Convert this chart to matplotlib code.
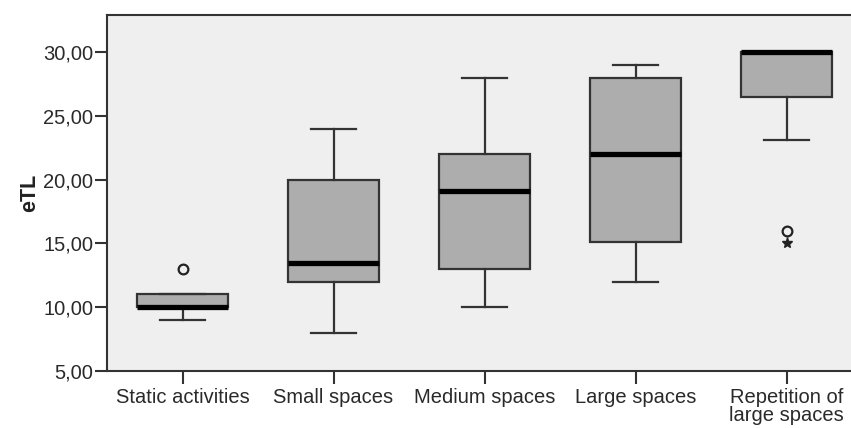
import matplotlib
matplotlib.use("Agg")
import matplotlib.pyplot as plt
from matplotlib.ticker import FuncFormatter

plt.rcParams['font.family'] = ['Liberation Sans', 'DejaVu Sans']

categories = ["Static activities", "Small spaces", "Medium spaces", "Large spaces", "Repetition of\nlarge spaces"]
whisker_low = [9.0, 8.0, 10.0, 12.0, 23.1]
q1 = [10.0, 12.0, 13.0, 15.1, 26.5]
median = [10.0, 13.5, 19.1, 22.0, 30.0]
q3 = [11.0, 20.0, 22.0, 28.0, 30.0]
whisker_high = [11.0, 24.0, 28.0, 29.0, 30.0]
outliers_circle = [[13.0], [], [], [], [16.0]]
outliers_star = [[], [], [], [], [15.0]]
yticks = [5, 10, 15, 20, 25, 30]

fig = plt.figure(figsize=(8.51, 4.28), dpi=100)
fig.patch.set_facecolor('white')
ax = fig.add_axes([107/851, 1 - 371/428, 755/851, (371 - 15)/428])
ax.set_facecolor('#efefef')

stats = []
for i, c in enumerate(categories):
    stats.append(dict(label=c, whislo=whisker_low[i], q1=q1[i], med=median[i],
                      q3=q3[i], whishi=whisker_high[i], fliers=[]))

positions = list(range(1, len(categories) + 1))
ax.bxp(stats, positions=positions, widths=0.6, patch_artist=True, showfliers=False,
       boxprops=dict(facecolor='#adadad', edgecolor='#333333', linewidth=1.6),
       medianprops=dict(color='black', linewidth=3.8, solid_capstyle='butt'),
       whiskerprops=dict(color='#333333', linewidth=1.6),
       capprops=dict(color='#333333', linewidth=1.6),
       capwidths=0.3)

for p, vals in zip(positions, outliers_circle):
    if vals:
        ax.plot([p] * len(vals), vals, linestyle='none', marker='o', markersize=7,
                markerfacecolor='none', markeredgecolor='#222222', markeredgewidth=1.6)
for p, vals in zip(positions, outliers_star):
    if vals:
        ax.plot([p] * len(vals), vals, linestyle='none', marker='*', markersize=8,
                color='#222222')

ax.set_xlim(0.5, 5.5)
ax.set_ylim(5, 32.9)
ax.set_yticks(yticks)
ax.yaxis.set_major_formatter(FuncFormatter(lambda v, p: f"{v:.2f}".replace('.', ',')))
ax.set_xticks(positions)
ax.set_xticklabels(categories, linespacing=0.95)
ax.tick_params(axis='both', labelsize=14.5, color='#333333', labelcolor='#2a2a2a', width=1.5, length=9)
ax.tick_params(axis='x', pad=3)
ax.tick_params(axis='y', pad=1)
ax.set_ylabel("eTL", fontsize=15.5, fontweight='bold', color='#222222', labelpad=2)
for s in ax.spines.values():
    s.set_color('#333333')
    s.set_linewidth(1.5)

fig.savefig("out.png", dpi=100)
